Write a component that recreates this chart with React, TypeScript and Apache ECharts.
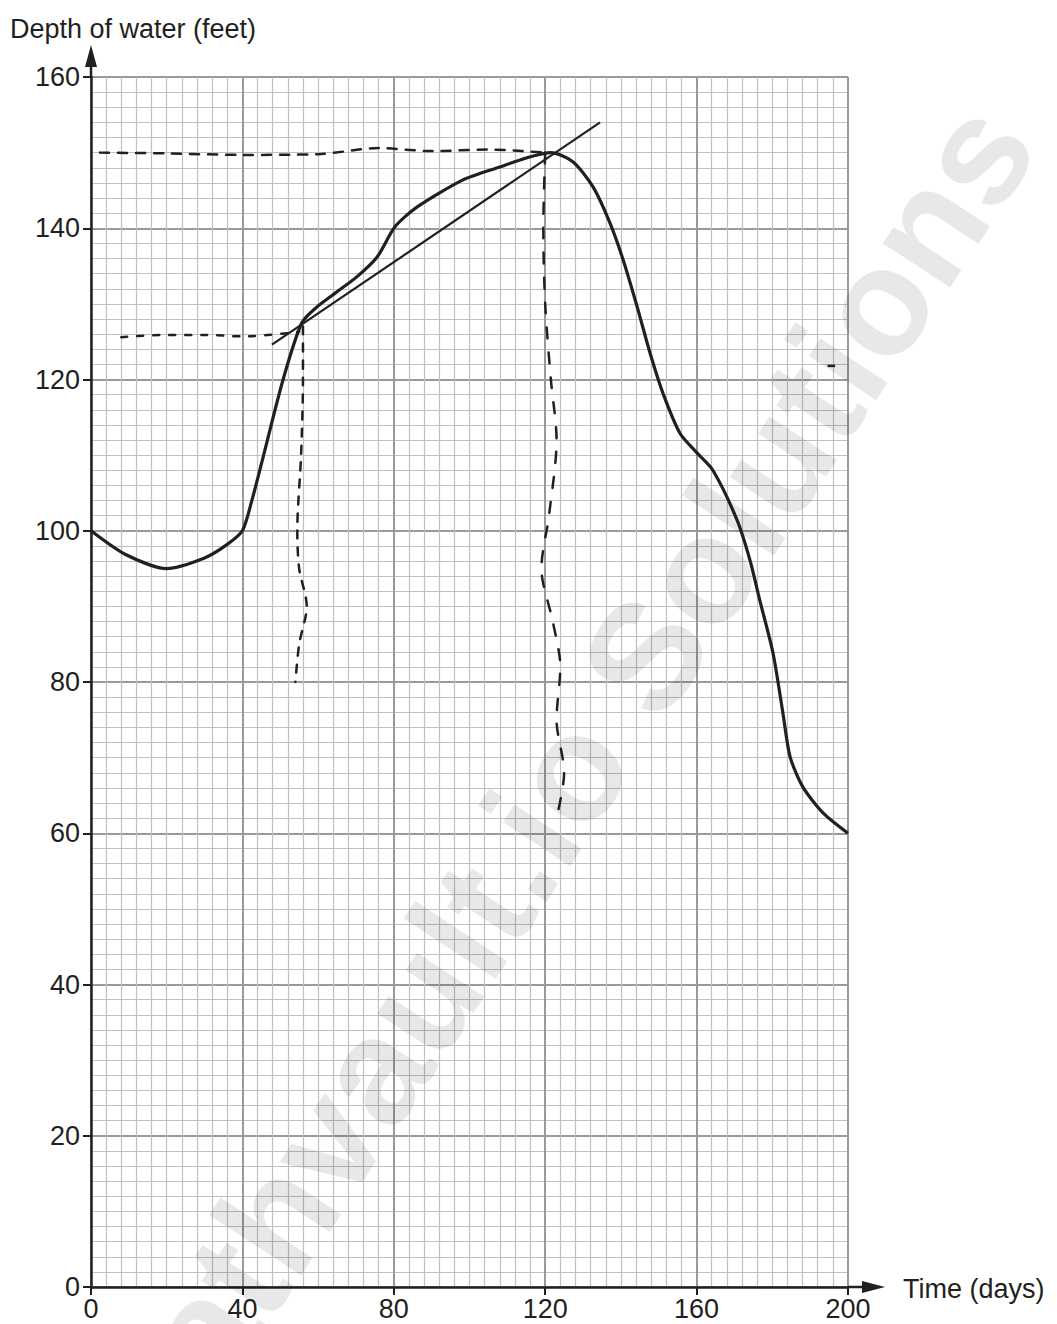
import React, { useEffect, useRef } from "react";
import * as echarts from "echarts";

// Main depth curve (days, feet)
const curveX = [0, 9, 20, 30, 36, 40, 42.5, 45, 50.7, 55.7, 59.7, 65, 70.3, 75.6, 80.3, 86.1, 98.3, 108, 115, 121.5, 127.3, 132.6, 137.1, 140.6, 144.3, 147.7, 151.1, 155.6, 160.1, 164.3, 170.7, 174.1, 176.7, 180.2, 182.8, 184.7, 188.1, 193.4, 200];
const curveY = [100, 96.9, 95, 96.4, 98.2, 100, 104, 108.8, 119.9, 127.5, 129.6, 131.6, 133.6, 136.2, 140.2, 142.8, 146.4, 148.1, 149.3, 150, 148.8, 145.5, 140.7, 135.8, 129.6, 123.5, 118.2, 112.9, 110.3, 108, 101.4, 96.1, 90.8, 83.8, 75.9, 70.1, 66.1, 62.7, 60];

// Tangent line
const tangentX = [47.8, 134.5];
const tangentY = [124.6, 154.0];

// Hand-drawn construction lines
const h150X = [2.4, 20, 40, 60, 76, 90, 105, 120];
const h150Y = [150, 149.9, 149.7, 149.8, 150.6, 150.2, 150.4, 150];
const h126X = [8, 20, 30, 40, 55];
const h126Y = [125.6, 125.9, 125.9, 125.7, 126.3];
const v55X = [56, 56, 55.5, 54.5, 55, 57, 55, 54];
const v55Y = [127, 120, 110, 100, 95, 90, 85, 80];
const v120X = [120, 119.5, 120, 121.5, 123, 121, 119, 122, 124, 123, 125, 123];
const v120Y = [150, 140, 130, 120, 112, 102, 95, 88, 82, 75, 68, 62];
const markX = [194.6, 196.6];
const markY = [121.8, 121.8];

const xTicks = [0, 40, 80, 120, 160, 200];
const yTicks = [0, 20, 40, 60, 80, 100, 120, 140, 160];

const INK = "#231f20";
const FONT = "'Liberation Sans', Arial, sans-serif";

const pairs = (xs: number[], ys: number[]) => xs.map((x, i) => [x, ys[i]]);

export default function App() {
  const ref = useRef<HTMLDivElement>(null);
  useEffect(() => {
    const chart = echarts.init(ref.current!, null, { renderer: "svg" });
    const dashed = (name: string, xs: number[], ys: number[], dash: number[]) => ({
      name,
      type: "line",
      data: pairs(xs, ys),
      showSymbol: false,
      symbol: "none",
      smooth: 0.3,
      lineStyle: { color: INK, width: 2.5, type: dash, cap: "round" },
      z: 3,
    });
    const option: any = {
      animation: false,
      backgroundColor: "#ffffff",
      grid: { left: 91, right: 209, top: 77, bottom: 37, containLabel: false },
      xAxis: {
        type: "value",
        min: xTicks[0],
        max: xTicks[xTicks.length - 1],
        interval: 40,
        axisLine: { show: true, onZero: false, lineStyle: { color: INK, width: 2.5 } },
        axisTick: { show: true, length: 8, lineStyle: { color: INK, width: 2 } },
        axisLabel: { color: INK, fontSize: 27, fontFamily: FONT, margin: 8 },
        splitLine: { show: true, lineStyle: { color: "#9a9a9a", width: 2 } },
        minorTick: { show: false, splitNumber: 10 },
        minorSplitLine: { show: true, lineStyle: { color: "#c0c0c0", width: 1.2 } },
      },
      yAxis: {
        type: "value",
        min: yTicks[0],
        max: yTicks[yTicks.length - 1],
        interval: 20,
        axisLine: { show: true, onZero: false, lineStyle: { color: INK, width: 2.5 } },
        axisTick: { show: true, length: 8, lineStyle: { color: INK, width: 2 } },
        axisLabel: { color: INK, fontSize: 27, fontFamily: FONT, margin: 11 },
        splitLine: { show: true, lineStyle: { color: "#9a9a9a", width: 2 } },
        minorTick: { show: false, splitNumber: 10 },
        minorSplitLine: { show: true, lineStyle: { color: "#c0c0c0", width: 1.2 } },
      },
      series: [
        {
          name: "depth",
          type: "line",
          data: pairs(curveX, curveY),
          showSymbol: false,
          symbol: "none",
          smooth: 0.25,
          lineStyle: { color: INK, width: 3.2 },
          z: 4,
        },
        {
          name: "tangent",
          type: "line",
          data: pairs(tangentX, tangentY),
          showSymbol: false,
          symbol: "none",
          lineStyle: { color: INK, width: 2.2 },
          z: 4,
        },
        dashed("h150", h150X, h150Y, [9, 9]),
        dashed("h126", h126X, h126Y, [6, 10]),
        dashed("v55", v55X, v55Y, [8, 9]),
        dashed("v120", v120X, v120Y, [11, 14]),
        {
          name: "mark",
          type: "line",
          data: pairs(markX, markY),
          showSymbol: false,
          symbol: "none",
          lineStyle: { color: INK, width: 2.5 },
          z: 3,
        },
      ],
    };
    chart.setOption(option);

    const o = chart.convertToPixel({ gridIndex: 0 }, [xTicks[0], yTicks[0]]) as number[];
    const e = chart.convertToPixel({ gridIndex: 0 }, [xTicks[xTicks.length - 1], yTicks[yTicks.length - 1]]) as number[];
    chart.setOption({
      graphic: [
        {
          type: "text",
          silent: true,
          x: 550,
          y: 800,
          rotation: 0.99,
          z: 1,
          style: {
            text: "mathvault.io Solutions",
            fontSize: 152,
            fontWeight: "bold",
            fontFamily: FONT,
            fill: "rgba(0,0,0,0.09)",
            align: "center",
            verticalAlign: "middle",
          },
        },
        {
          type: "line",
          z: 10,
          shape: { x1: o[0], y1: e[1], x2: o[0], y2: e[1] - 12 },
          style: { stroke: INK, lineWidth: 2.5 },
        },
        {
          type: "polygon",
          z: 10,
          shape: { points: [[o[0], e[1] - 32], [o[0] - 6, e[1] - 10], [o[0] + 6, e[1] - 10]] },
          style: { fill: INK },
        },
        {
          type: "line",
          z: 10,
          shape: { x1: e[0], y1: o[1], x2: e[0] + 16, y2: o[1] },
          style: { stroke: INK, lineWidth: 2.5 },
        },
        {
          type: "polygon",
          z: 10,
          shape: { points: [[e[0] + 37, o[1]], [e[0] + 14, o[1] - 6], [e[0] + 14, o[1] + 6]] },
          style: { fill: INK },
        },
        {
          type: "text",
          x: 10,
          y: 29,
          style: {
            text: "Depth of water (feet)",
            fontSize: 27,
            fontFamily: FONT,
            fill: INK,
            align: "left",
            verticalAlign: "middle",
          },
        },
        {
          type: "text",
          x: e[0] + 55,
          y: o[1] + 2,
          style: {
            text: "Time (days)",
            fontSize: 27,
            fontFamily: FONT,
            fill: INK,
            align: "left",
            verticalAlign: "middle",
          },
        },
      ],
    });
    return () => chart.dispose();
  }, []);
  return (
    <div
      ref={ref}
      style={{ position: "absolute", left: 0, top: 0, width: 1057, height: 1324 }}
    />
  );
}
